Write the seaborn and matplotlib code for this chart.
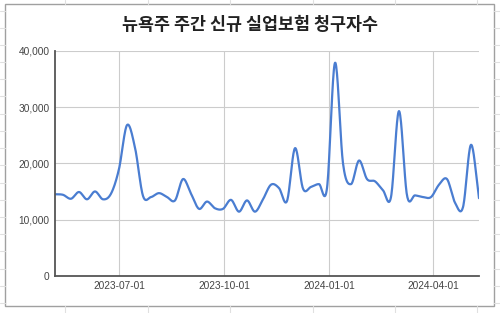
import numpy as np
import pandas as pd
import matplotlib
matplotlib.use("Agg")
import matplotlib.pyplot as plt
import matplotlib.dates as mdates
from matplotlib.lines import Line2D
from matplotlib.patches import Rectangle
from matplotlib.ticker import FuncFormatter
import seaborn as sns

# ---- data ----
title = "뉴욕주 주간 신규 실업보험 청구자수"
start_week = "2023-05-06"
claims = [14500, 14400, 13700, 14900, 13600, 15000, 13600, 14600, 19000, 26800,
          22800, 14200, 14000, 14700, 14000, 13400, 17200, 14600, 11900, 13200,
          12000, 11900, 13500, 11400, 13400, 11400, 13600, 16200, 15600, 13300,
          22700, 15500, 15800, 16300, 15600, 37900, 20000, 16300, 20500, 17200,
          16800, 15200, 14000, 29300, 14300, 14300, 14000, 14000, 16200, 17200,
          13000, 12200, 23300, 13800]
x_ticks = ["2023-07-01", "2023-10-01", "2024-01-01", "2024-04-01"]
y_ticks = [0, 10000, 20000, 30000, 40000]

dates = pd.date_range(start_week, periods=len(claims), freq="7D")

# smooth curve (Catmull-Rom style, like the chart's smoothed line)
def smooth(xn, yn, steps=20):
    xn = np.asarray(xn, float); yn = np.asarray(yn, float)
    n = len(xn)
    m = np.zeros(n)
    m[1:-1] = (yn[2:] - yn[:-2]) / (xn[2:] - xn[:-2])
    m[0] = (yn[1] - yn[0]) / (xn[1] - xn[0])
    m[-1] = (yn[-1] - yn[-2]) / (xn[-1] - xn[-2])
    xs, ys = [], []
    for i in range(n - 1):
        h = xn[i + 1] - xn[i]
        t = np.linspace(0, 1, steps, endpoint=False)
        h00 = 2*t**3 - 3*t**2 + 1
        h10 = t**3 - 2*t**2 + t
        h01 = -2*t**3 + 3*t**2
        h11 = t**3 - t**2
        xs.append(xn[i] + t*h)
        ys.append(h00*yn[i] + h10*h*m[i] + h01*yn[i+1] + h11*h*m[i+1])
    xs.append([xn[-1]]); ys.append([yn[-1]])
    return np.concatenate(xs), np.concatenate(ys)

xnum = mdates.date2num(dates)
sx, sy = smooth(xnum, claims)
df = pd.DataFrame({"date": mdates.num2date(sx), "claims": sy})
df["date"] = pd.to_datetime(df["date"]).dt.tz_localize(None)

sns.set_theme(style="white")
plt.rcParams["font.family"] = ["Liberation Sans", "Noto Sans CJK KR", "DejaVu Sans"]

W, H = 500, 313
fig = plt.figure(figsize=(W/100, H/100), dpi=100)
fig.patch.set_facecolor("white")

# spreadsheet background grid
def px_line(x0, y0, x1, y1, **kw):
    fig.add_artist(Line2D([x0/W, x1/W], [1-y0/H, 1-y1/H], transform=fig.transFigure, **kw))
for cx in [65, 147.5, 230, 312.5, 395, 477]:
    px_line(cx, 0, cx, 4, color="#e0e0e0", lw=0.8)
    px_line(cx, 306, cx, H, color="#e0e0e0", lw=0.8)
for ry in np.arange(10.5, H, 17.2):
    px_line(0, ry, 5, ry, color="#e0e0e0", lw=0.8)
    px_line(494, ry, W, ry, color="#e0e0e0", lw=0.8)

fig.add_artist(Rectangle((5/W, 1-306/H), 489/W, 302/H, transform=fig.transFigure,
                         facecolor="white", edgecolor="#a0a0a0", lw=1.0, zorder=0))

ax = fig.add_axes([55/W, 1-275.7/H, 424/W, 224.7/H])
ax.set_facecolor("none")
sns.lineplot(data=df, x="date", y="claims", ax=ax, color="#4a7dd1", lw=1.6,
             estimator=None, sort=False)

ax.set_xlim(mdates.date2num(pd.Timestamp("2023-05-06")), mdates.date2num(pd.Timestamp("2024-05-11")))
ax.set_ylim(0, 40000)
ax.set_xticks(mdates.date2num(pd.to_datetime(x_ticks)))
ax.set_xticklabels(x_ticks)
ax.set_yticks(y_ticks)
ax.yaxis.set_major_formatter(FuncFormatter(lambda v, p: f"{int(v):,}"))
ax.grid(True, color="#cccccc", lw=0.8)
ax.set_axisbelow(True)
ax.tick_params(length=0, labelsize=7.3, colors="#444444", pad=4)
ax.set_xlabel(""); ax.set_ylabel("")
for s in ["top", "right"]:
    ax.spines[s].set_visible(False)
for s in ["left", "bottom"]:
    ax.spines[s].set_color("#555555")
    ax.spines[s].set_linewidth(1.3)

fig.text(0.5, 1-25/H, title, ha="center", va="center", fontsize=12.5, fontweight="bold",
         color="#222222", family=["Noto Sans CJK KR", "DejaVu Sans"])

fig.savefig("out.png", dpi=100)
